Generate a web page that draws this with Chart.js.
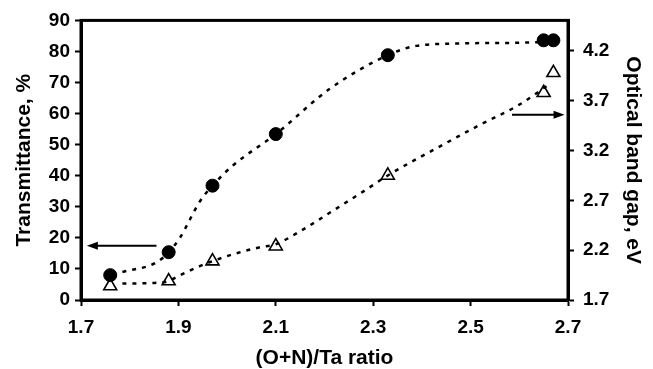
<!DOCTYPE html>
<html>
<head>
<meta charset="utf-8">
<script src="https://cdn.jsdelivr.net/npm/chart.js@4"></script>
<style>
  html, body { margin: 0; padding: 0; background: #fff; }
  #wrap { width: 653px; height: 369px; position: relative; }
</style>
</head>
<body>
<div id="wrap"><canvas id="chart"></canvas></div>
<script>
// measured points
const ratioX = [1.76, 1.88, 1.97, 2.10, 2.33, 2.65, 2.67];
const transmittance = [8.0, 15.4, 36.8, 53.4, 78.8, 83.6, 83.6];
const ratioGapX = [1.76, 1.88, 1.97, 2.10, 2.33, 2.65, 2.67];
const bandGap = [1.84, 1.89, 2.09, 2.24, 2.95, 3.78, 3.98];

// dotted guide curves
const transFitX = [1.785, 1.855, 1.88, 1.903, 1.944, 1.97, 2.012, 2.10, 2.211, 2.33, 2.389, 2.485, 2.595, 2.64];
const transFitY = [9.0, 12.1, 15.4, 20.0, 31.7, 36.8, 43.3, 53.4, 68.0, 78.8, 81.8, 82.6, 82.8, 83.0];
const gapFitX = [1.785, 1.842, 1.88, 1.896, 1.944, 1.97, 2.013, 2.068, 2.10, 2.15, 2.225, 2.28, 2.33, 2.44, 2.52, 2.60, 2.66];
const gapFitY = [1.865, 1.87, 1.89, 1.93, 2.04, 2.09, 2.16, 2.23, 2.26, 2.39, 2.62, 2.79, 2.95, 3.25, 3.46, 3.66, 3.86];

// axis ticks
const xTicks = [1.7, 1.9, 2.1, 2.3, 2.5, 2.7];
const leftTicks = [0, 10, 20, 30, 40, 50, 60, 70, 80, 90];
const rightTicks = [1.7, 2.2, 2.7, 3.2, 3.7, 4.2];

// arrows pointing to the axis each series belongs to: [xFrom, xTo, y]
const leftArrow = [1.855, 1.712, 17.5];
const rightArrow = [2.585, 2.693, 3.56];

const pairs = (xs, ys) => xs.map((x, i) => ({ x: x, y: ys[i] }));
const tickFont = { family: 'Liberation Sans, Arial, sans-serif', size: 19, weight: 'bold' };
const titleFont = { family: 'Liberation Sans, Arial, sans-serif', size: 21, weight: 'bold', lineHeight: 1.0 };

const frameAndArrows = {
    id: 'frameAndArrows',
    afterDatasetsDraw(chart) {
        const { ctx, chartArea: a, scales } = chart;
        ctx.save();
        ctx.strokeStyle = '#000';
        ctx.lineWidth = 3;
        ctx.strokeRect(a.left, a.top, a.right - a.left, a.bottom - a.top);

        const arrow = (x1, x2, y) => {
            const dir = Math.sign(x2 - x1);
            ctx.lineWidth = 2;
            ctx.beginPath();
            ctx.moveTo(x1, y);
            ctx.lineTo(x2 - dir * 8, y);
            ctx.stroke();
            ctx.beginPath();
            ctx.moveTo(x2, y);
            ctx.lineTo(x2 - dir * 11, y - 4);
            ctx.lineTo(x2 - dir * 11, y + 4);
            ctx.closePath();
            ctx.fillStyle = '#000';
            ctx.fill();
        };
        arrow(scales.x.getPixelForValue(leftArrow[0]), scales.x.getPixelForValue(leftArrow[1]), scales.y.getPixelForValue(leftArrow[2]));
        arrow(scales.x.getPixelForValue(rightArrow[0]), scales.x.getPixelForValue(rightArrow[1]), scales.y2.getPixelForValue(rightArrow[2]));
        ctx.restore();
    }
};

const tickGrid = { display: true, drawOnChartArea: false, drawTicks: true, tickLength: 6, tickWidth: 2, color: '#000' };

new Chart(document.getElementById('chart'), {
    type: 'scatter',
    data: {
        datasets: [
            {
                label: 'Transmittance fit',
                data: pairs(transFitX, transFitY),
                showLine: true,
                borderColor: '#000',
                borderWidth: 2.5,
                borderDash: [4, 6],
                pointRadius: 0,
                cubicInterpolationMode: 'monotone',
                yAxisID: 'y'
            },
            {
                label: 'Band gap fit',
                data: pairs(gapFitX, gapFitY),
                showLine: true,
                borderColor: '#000',
                borderWidth: 2.5,
                borderDash: [4, 6],
                pointRadius: 0,
                cubicInterpolationMode: 'monotone',
                yAxisID: 'y2'
            },
            {
                label: 'Transmittance',
                data: pairs(ratioX, transmittance),
                pointStyle: 'circle',
                pointRadius: 6.5,
                backgroundColor: '#000',
                borderColor: '#000',
                yAxisID: 'y'
            },
            {
                label: 'Optical band gap',
                data: pairs(ratioGapX, bandGap),
                pointStyle: 'triangle',
                pointRadius: 7.5,
                backgroundColor: '#fff',
                borderColor: '#000',
                borderWidth: 1.6,
                yAxisID: 'y2'
            }
        ]
    },
    options: {
        responsive: true,
        maintainAspectRatio: false,
        animation: false,
        layout: { padding: { top: 16, left: 0, right: 0, bottom: 0 } },
        plugins: { legend: { display: false }, tooltip: { enabled: false } },
        scales: {
            x: {
                type: 'linear',
                min: 1.7,
                max: 2.7,
                afterBuildTicks: s => { s.ticks = xTicks.map(v => ({ value: v })); },
                afterFit: s => { s.height = 69; },
                ticks: { color: '#000', font: tickFont, padding: 10, maxRotation: 0, callback: v => v.toFixed(1) },
                grid: tickGrid,
                border: { display: true, color: '#000', width: 3 },
                title: { display: true, text: '(O+N)/Ta ratio', color: '#000', font: titleFont, padding: { top: 4, bottom: 0 } }
            },
            y: {
                position: 'left',
                min: 0,
                max: 90,
                afterBuildTicks: s => { s.ticks = leftTicks.map(v => ({ value: v })); },
                afterFit: s => { s.width = 81; },
                ticks: { color: '#000', font: tickFont, padding: 5 },
                grid: tickGrid,
                border: { display: true, color: '#000', width: 3 },
                title: { display: true, text: 'Transmittance, %', color: '#000', font: titleFont, padding: { top: 14, bottom: 0 } }
            },
            y2: {
                position: 'right',
                min: 1.7,
                max: 4.506,
                afterBuildTicks: s => { s.ticks = rightTicks.map(v => ({ value: v })); },
                afterFit: s => { s.width = 85; },
                ticks: { color: '#000', font: tickFont, padding: 9, callback: v => v.toFixed(1) },
                grid: tickGrid,
                border: { display: true, color: '#000', width: 3 },
                title: { display: true, text: 'Optical band gap, eV', color: '#000', font: titleFont, padding: { top: 10, bottom: 0 } }
            }
        }
    },
    plugins: [frameAndArrows]
});
</script>
</body>
</html>
